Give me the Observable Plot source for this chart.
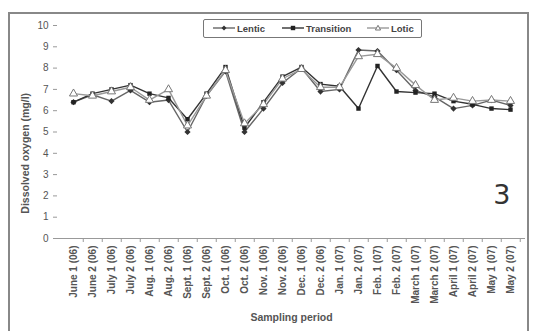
<!DOCTYPE html>
<html>
<head>
<meta charset="utf-8">
<script src="https://cdn.jsdelivr.net/npm/d3@7"></script>
<script src="https://cdn.jsdelivr.net/npm/@observablehq/plot@0.6"></script>
<style>
  html, body { margin: 0; padding: 0; background: #fff; }
  #wrap { position: relative; width: 533px; height: 331px; overflow: hidden; font-family: "Liberation Sans", Arial, sans-serif; }
  #border { position: absolute; left: 8px; top: 12px; width: 521px; height: 330px; border: 2px solid #888; box-sizing: border-box; pointer-events: none; }
  #legend { position: absolute; left: 203px; top: 19px; width: 219px; height: 19px; border: 1.5px solid #777; border-radius: 2px; box-sizing: border-box; font-size: 9.5px; font-weight: bold; color: #444; background: #fff; }
  #legend span.item { position: absolute; top: 0; height: 16px; display: flex; align-items: center; }
  #legend svg { margin-right: 2px; }
</style>
</head>
<body>
<div id="wrap">
  <div id="chart"></div>
  <div id="border"></div>
  <div id="legend"></div>
</div>
<script>
const categories = ["June 1 (06)", "June 2 (06)", "July 1 (06)", "July 2 (06)", "Aug. 1 (06)", "Aug. 2 (06)",
  "Sept. 1 (06)", "Sept. 2 (06)", "Oct. 1 (06)", "Oct. 2 (06)", "Nov. 1 (06)", "Nov. 2 (06)",
  "Dec. 1 (06)", "Dec. 2 (06)", "Jan. 1 (07)", "Jan. 2 (07)", "Feb. 1 (07)", "Feb. 2 (07)",
  "March 1 (07)", "March 2 (07)", "April 1 (07)", "April 2 (07)", "May 1 (07)", "May 2 (07)"];
const seriesNames = ["Lentic", "Transition", "Lotic"];
const lentic     = [6.4, 6.75, 6.45, 6.95, 6.4, 6.5, 5.0, 6.7, 7.85, 5.0, 6.1, 7.3, 8.0, 6.9, 7.0, 8.85, 8.8, 7.9, 6.95, 6.65, 6.1, 6.25, 6.5, 6.25];
const transition = [6.4, 6.8, 7.0, 7.2, 6.8, 6.6, 5.6, 6.8, 8.05, 5.2, 6.4, 7.6, 8.05, 7.25, 7.15, 6.1, 8.1, 6.9, 6.85, 6.8, 6.45, 6.3, 6.1, 6.05];
const lotic      = [6.8, 6.7, 6.9, 7.1, 6.5, 7.0, 5.3, 6.7, 7.9, 5.4, 6.3, 7.5, 7.95, 7.1, 7.1, 8.55, 8.65, 8.0, 7.2, 6.5, 6.6, 6.45, 6.5, 6.45];
const yTicks = [0, 1, 2, 3, 4, 5, 6, 7, 8, 9, 10];

const styles = {
  Lentic:     {stroke: "#666", symbol: "diamond2", fill: "#333", r: 2.8},
  Transition: {stroke: "#333", symbol: "square2", fill: "#222", r: 2.8},
  Lotic:      {stroke: "#999", symbol: "triangle", fill: "#fff", r: 3}
};
const valuesBySeries = {Lentic: lentic, Transition: transition, Lotic: lotic};
const rows = seriesNames.map(s => categories.map((c, i) => ({series: s, period: c, value: valuesBySeries[s][i]})));

const step = (533 - 57 - 8) / categories.length;

const marks = [
  Plot.axisY({ticks: yTicks, tickSize: 4, tickPadding: 5, stroke: "#999", fill: "#555", fontSize: 10, label: null, line: true}),
  Plot.ruleY([0], {stroke: "#999", strokeWidth: 1.2}),
  Plot.axisX({ticks: categories, tickSize: 4, dx: step / 2, tickFormat: () => "", stroke: "#999", label: null}),
  Plot.axisX({ticks: categories, tickSize: 0, tickPadding: 7, tickRotate: -90, fontSize: 10, fontWeight: "bold", fill: "#555", label: null}),
  Plot.text(["Sampling period"], {frameAnchor: "bottom", dy: 82, fontSize: 10.5, fontWeight: "bold", fill: "#555"}),
  Plot.text(["Dissolved oxygen (mg/l)"], {frameAnchor: "left", textAnchor: "middle", y: () => 4.0, dx: -32, rotate: -90, fontSize: 10.5, fontWeight: "bold", fill: "#555"}),
  Plot.text(["3"], {frameAnchor: "right", textAnchor: "end", y: () => 2.03, dx: -15, fontSize: 27, fill: "#333", fontFamily: "DejaVu Sans, sans-serif"})
];
for (const s of seriesNames) {
  const st = styles[s];
  marks.push(Plot.line(rows[seriesNames.indexOf(s)], {x: "period", y: "value", stroke: st.stroke, strokeWidth: 1.4}));
}
for (const s of seriesNames) {
  const st = styles[s];
  marks.push(Plot.dot(rows[seriesNames.indexOf(s)], {x: "period", y: "value", symbol: () => st.symbol, r: st.r, fill: st.fill, stroke: s === "Lotic" ? "#777" : "none", strokeWidth: 1}));
}

const chart = Plot.plot({
  width: 533,
  height: 331,
  marginLeft: 57,
  marginRight: 8,
  marginTop: 25,
  marginBottom: 93,
  style: {fontFamily: "'Liberation Sans', Arial, sans-serif", background: "#fff"},
  x: {type: "point", domain: categories, padding: 0.5},
  y: {domain: [0, 10]},
  symbol: {type: "identity"},
  marks
});
document.getElementById("chart").appendChild(chart);

// legend
const legend = document.getElementById("legend");
const symPath = {
  Lentic: '<path d="M11,1.5 L13.5,4 L11,6.5 L8.5,4 Z" fill="#333"/>',
  Transition: '<rect x="8.8" y="1.8" width="4.4" height="4.4" fill="#222"/>',
  Lotic: '<path d="M11,1.3 L13.6,6 L8.4,6 Z" fill="#fff" stroke="#777" stroke-width="1"/>'
};
const legendLeft = {Lentic: 9, Transition: 78, Lotic: 163};
for (const s of seriesNames) {
  const item = document.createElement("span");
  item.className = "item";
  item.style.left = legendLeft[s] + "px";
  item.innerHTML = `<svg width="22" height="8"><line x1="0" y1="4" x2="22" y2="4" stroke="${styles[s].stroke}" stroke-width="1.4"/>${symPath[s]}</svg>${s}`;
  legend.appendChild(item);
}
</script>
</body>
</html>
